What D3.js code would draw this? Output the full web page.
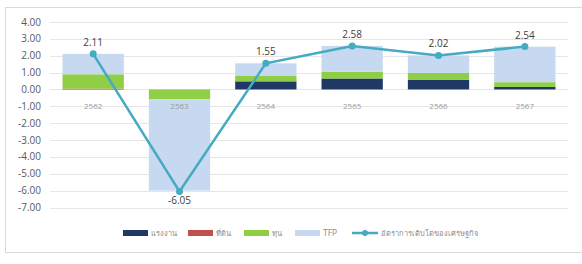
<!DOCTYPE html>
<html>
<head>
<meta charset="utf-8">
<script src="https://cdn.jsdelivr.net/npm/d3@7"></script>
<style>
  body { margin: 0; background: #fff; }
  svg { font-family: "Open Sans", "Noto Sans", sans-serif; }
</style>
</head>
<body>
<div id="chart"></div>
<script>
const years = ['2562', '2563', '2564', '2565', '2566', '2567'];
const labor = [0.02, 0.0, 0.48, 0.65, 0.58, 0.15];
const land = [0.03, 0.0, 0.0, 0.0, 0.0, 0.0];
const capital = [0.85, -0.58, 0.35, 0.40, 0.40, 0.28];
const tfp = [1.21, -5.42, 0.72, 1.53, 1.04, 2.11];
const growth = [2.11, -6.05, 1.55, 2.58, 2.02, 2.54];
const yTicks = [4, 3, 2, 1, 0, -1, -2, -3, -4, -5, -6, -7];

const seriesNames = ['แรงงาน', 'ที่ดิน', 'ทุน', 'TFP'];
const seriesColors = ['#1f3864', '#c0504d', '#8fce45', '#c6d9f0'];
const lineName = 'อัตราการเติบโตของเศรษฐกิจ';
const lineColor = '#45aac2';

// plain hyphen for negatives, like the original
const fmt = d => d3.format('.2f')(d).replace('\u2212', '-');

const width = 582, height = 264;
const svg = d3.select('#chart').append('svg')
    .attr('width', width)
    .attr('height', height);

// outer frame
svg.append('rect')
    .attr('x', 5.5).attr('y', 7.5)
    .attr('width', 590).attr('height', 245)
    .attr('fill', '#fff')
    .attr('stroke', '#d9d9d9');

let x = d3.scaleBand().domain(years).range([50, 568]).paddingInner(0.29).paddingOuter(0.145);
let y = d3.scaleLinear().domain([-7, 4]).range([207.5, 22]);

// gridlines
svg.append('g')
    .selectAll('line')
    .data(yTicks)
    .enter().append('line')
    .attr('x1', 50).attr('x2', 568)
    .attr('y1', d => Math.round(y(d)) + 0.5)
    .attr('y2', d => Math.round(y(d)) + 0.5)
    .attr('stroke', '#e6e6e6');

// y labels
svg.append('g')
    .selectAll('text')
    .data(yTicks)
    .enter().append('text')
    .attr('x', 41)
    .attr('y', d => y(d) + 3.5)
    .attr('text-anchor', 'end')
    .attr('font-size', 10)
    .attr('fill', '#595959')
    .text(fmt);

// stacked bars, positives and negatives stacked separately
let seriesData = [labor, land, capital, tfp];
years.forEach((yr, i) => {
    let pos = 0, neg = 0;
    seriesData.forEach((s, k) => {
        let v = s[i];
        if (v === 0) return;
        let y0, y1;
        if (v > 0) { y0 = pos; y1 = pos + v; pos = y1; }
        else { y0 = neg; y1 = neg + v; neg = y1; }
        svg.append('rect')
            .attr('x', x(yr))
            .attr('width', x.bandwidth())
            .attr('y', y(Math.max(y0, y1)))
            .attr('height', Math.abs(y(y0) - y(y1)))
            .attr('fill', seriesColors[k]);
    });
});

// category labels
svg.append('g')
    .selectAll('text')
    .data(years)
    .enter().append('text')
    .attr('x', d => x(d) + x.bandwidth() / 2)
    .attr('y', y(-1) + 3)
    .attr('text-anchor', 'middle')
    .attr('font-size', 8)
    .attr('fill', '#9a9a9a')
    .text(d => d);

// growth line
let line = d3.line()
    .x((d, i) => x(years[i]) + x.bandwidth() / 2)
    .y(d => y(d));

svg.append('path')
    .datum(growth)
    .attr('fill', 'none')
    .attr('stroke', lineColor)
    .attr('stroke-width', 2.5)
    .attr('d', line);

svg.append('g')
    .selectAll('circle')
    .data(growth)
    .enter().append('circle')
    .attr('cx', (d, i) => x(years[i]) + x.bandwidth() / 2)
    .attr('cy', d => y(d))
    .attr('r', 3.5)
    .attr('fill', lineColor);

svg.append('g')
    .selectAll('text')
    .data(growth)
    .enter().append('text')
    .attr('x', (d, i) => x(years[i]) + x.bandwidth() / 2)
    .attr('y', d => d < 0 ? y(d) + 13 : y(d) - 8)
    .attr('text-anchor', 'middle')
    .attr('font-size', 10)
    .attr('fill', '#404040')
    .text(fmt);

// legend
let legendItems = [
    {name: seriesNames[0], color: seriesColors[0], x: 123},
    {name: seriesNames[1], color: seriesColors[1], x: 188},
    {name: seriesNames[2], color: seriesColors[2], x: 244},
    {name: seriesNames[3], color: seriesColors[3], x: 295},
];
let legend = svg.append('g');
legendItems.forEach(it => {
    legend.append('rect')
        .attr('x', it.x).attr('y', 230)
        .attr('width', 25).attr('height', 6)
        .attr('fill', it.color);
    legend.append('text')
        .attr('x', it.x + 28).attr('y', 236)
        .attr('font-size', it.name === 'TFP' ? 8.5 : 7.5)
        .attr('fill', '#8a8a8a')
        .text(it.name);
});
legend.append('line')
    .attr('x1', 352).attr('x2', 378)
    .attr('y1', 233).attr('y2', 233)
    .attr('stroke', lineColor).attr('stroke-width', 2.5);
legend.append('circle')
    .attr('cx', 365).attr('cy', 233).attr('r', 3)
    .attr('fill', lineColor);
legend.append('text')
    .attr('x', 381).attr('y', 236)
    .attr('font-size', 7.5)
    .attr('fill', '#8a8a8a')
    .text(lineName);
</script>
</body>
</html>
